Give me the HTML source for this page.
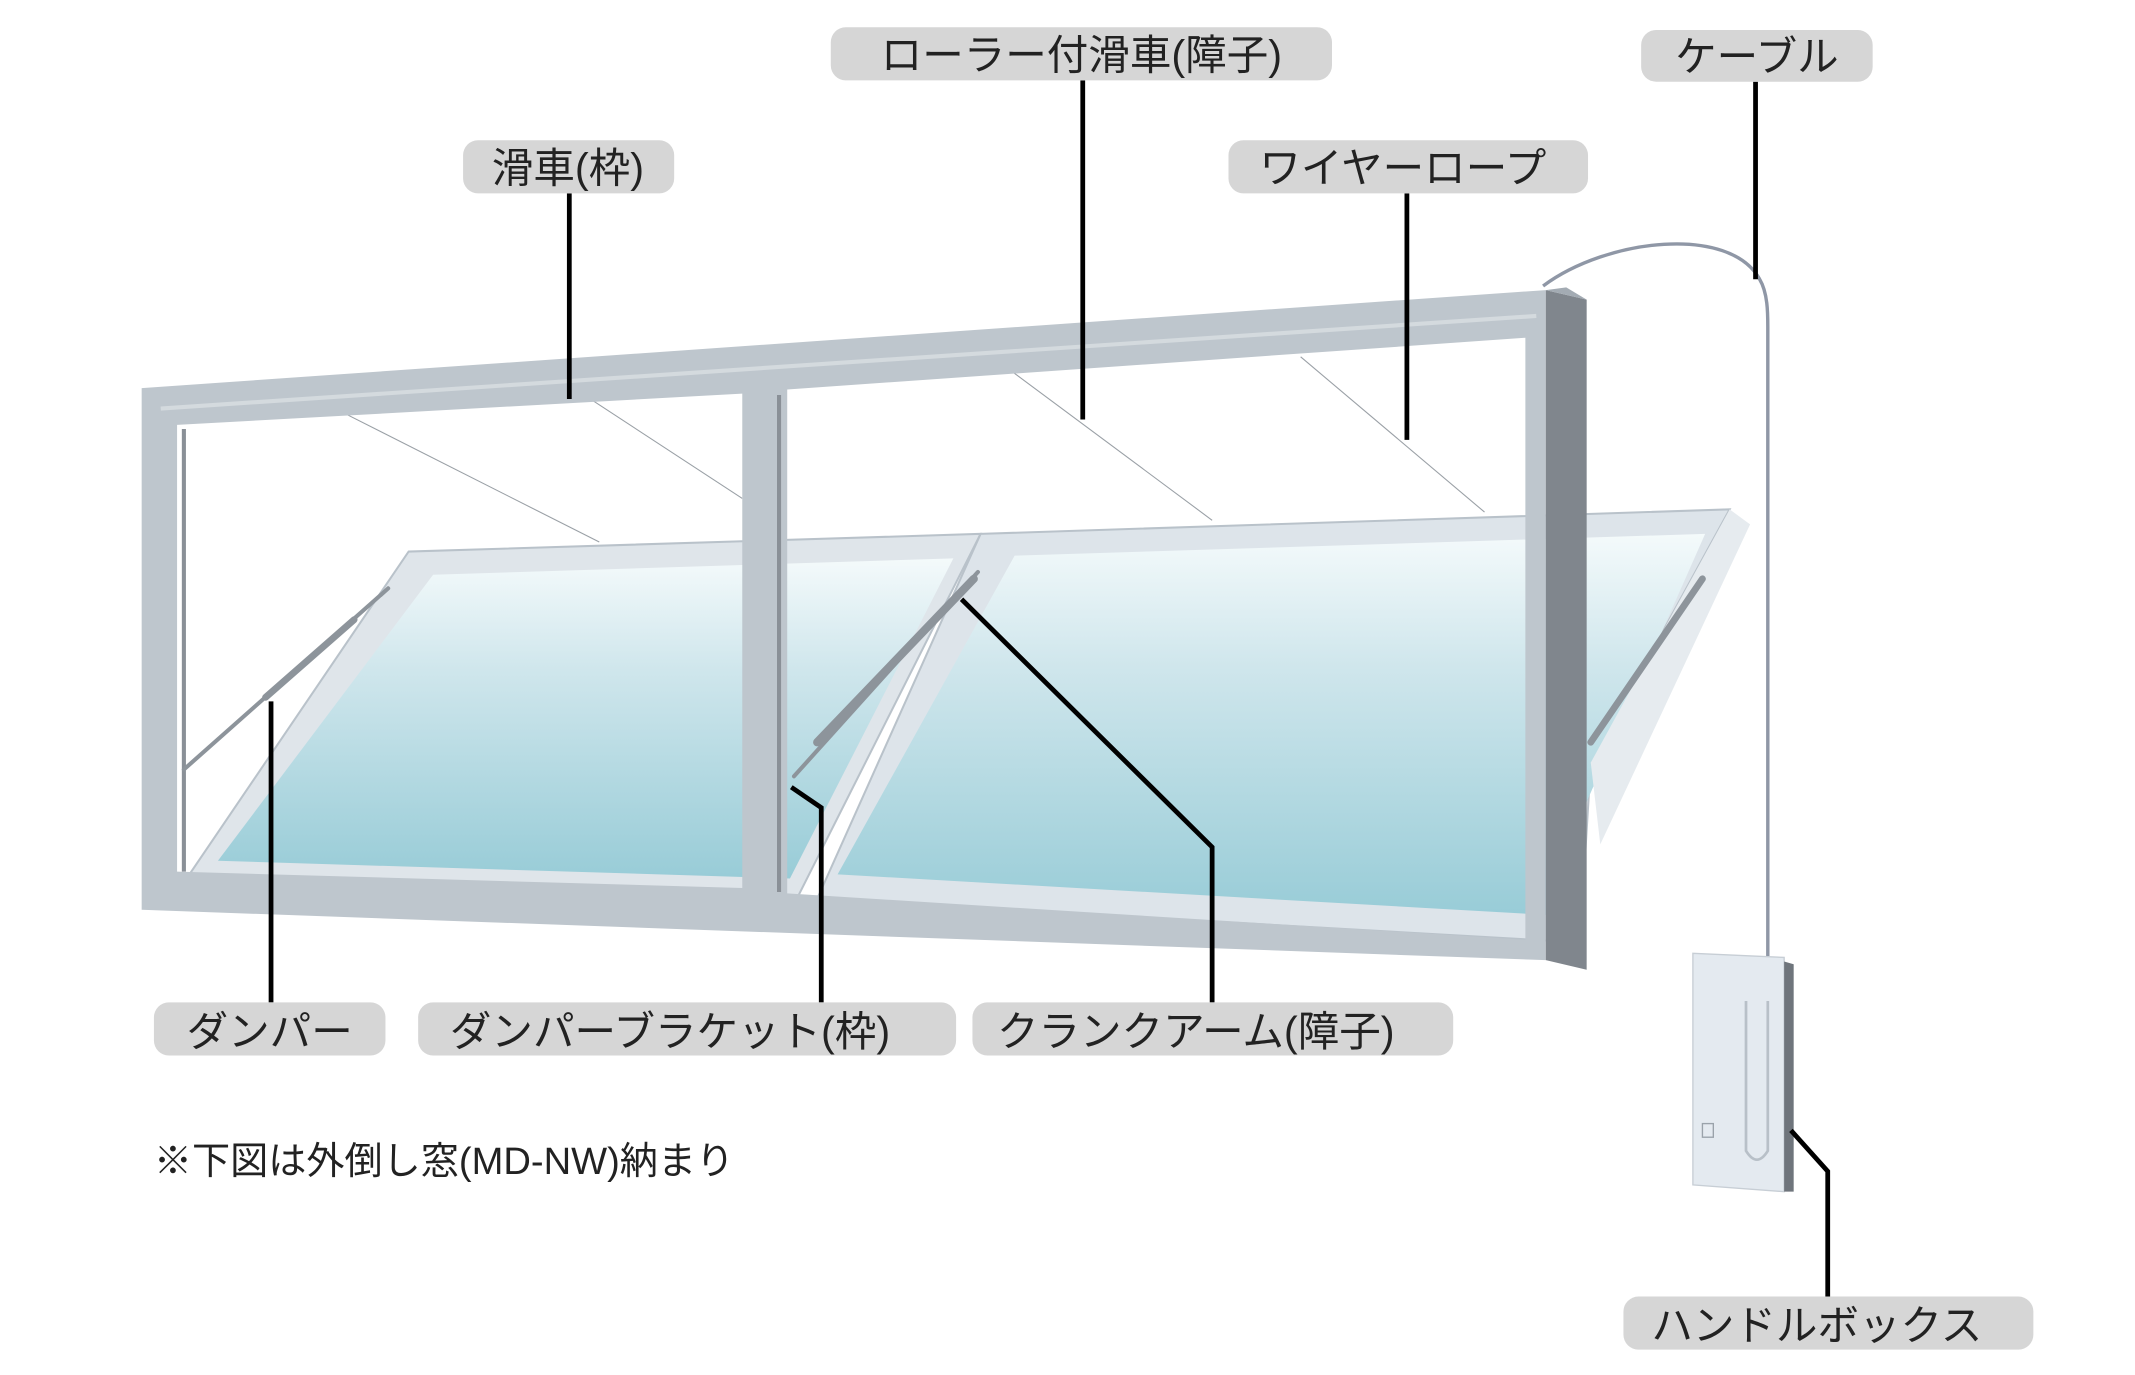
<!DOCTYPE html>
<html><head><meta charset="utf-8"><style>
html,body{margin:0;padding:0;background:#fff;}
svg{display:block}
text{font-family:"Liberation Sans","Noto Sans CJK JP",sans-serif;fill:#222;}
</style></head><body>
<svg width="2135" height="1375" viewBox="0 0 1567.6 1009.6" xmlns="http://www.w3.org/2000/svg">
<defs>
<linearGradient id="gl" x1="0" y1="0" x2="0" y2="1">
<stop offset="0" stop-color="#f4fafb"/><stop offset="0.35" stop-color="#cfe6ec"/><stop offset="1" stop-color="#98ccd7"/>
</linearGradient>
</defs>
<rect width="1567.6" height="1009.6" fill="#fff"/>
<!-- sashes -->
<polygon points="300,405 720,392 585,660 135,648" fill="#dfe5ea" stroke="#b9c2ca" stroke-width="1.5"/>
<polygon points="318,422 700,410 580,645 160,632" fill="url(#gl)"/>
<polygon points="720,392 1270,374 1168,560 1160,692 600,660" fill="#dde4ea" stroke="#b9c2ca" stroke-width="1.5"/>
<polygon points="745,408 1252,392 1160,600 1140,672 615,642" fill="url(#gl)"/>
<polygon points="1270,374 1285,385 1175,620 1168,560" fill="#e6ebef"/>
<!-- wires -->
<g stroke="#9aa0a6" stroke-width="0.8">
<line x1="250" y1="302" x2="440" y2="398"/><line x1="432" y1="292" x2="545" y2="366"/>
<line x1="742" y1="272" x2="890" y2="382"/><line x1="955" y1="262" x2="1090" y2="376"/>
</g>
<!-- frame -->
<path fill-rule="evenodd" fill="#bec6cd" d="M104,285 L1135,213 L1135,705 L104,668 Z M130,312 L545,289 L545,652 L130,640 Z M578,286 L1120,248 L1120,690 L578,656 Z"/>
<path fill="none" stroke="#d4dade" stroke-width="3" d="M118,300 L1128,232"/>
<polygon points="1135,213 1165,220 1165,712 1135,705" fill="#80868d"/>
<polygon points="1135,213 1150,211 1165,220" fill="#a3abb3"/>
<line x1="135" y1="315" x2="135" y2="640" stroke="#8a9097" stroke-width="3"/>
<line x1="572" y1="290" x2="572" y2="655" stroke="#8a9097" stroke-width="3"/>
<!-- dampers / arms -->
<g stroke="#8d949b" stroke-linecap="round">
<line x1="135" y1="565" x2="285" y2="432" stroke-width="3"/>
<line x1="195" y1="512" x2="260" y2="455" stroke-width="5"/>
<line x1="583" y1="570" x2="718" y2="420" stroke-width="3"/>
<line x1="600" y1="545" x2="715" y2="425" stroke-width="6"/>
<line x1="1168" y1="545" x2="1250" y2="425" stroke-width="5"/>
</g>
<!-- cable -->
<path d="M1133,210 C1180,175 1270,165 1292,205 C1298,215 1298,230 1298,240 L1298,702" fill="none" stroke="#8f97a6" stroke-width="2.5"/>
<!-- handle box -->
<polygon points="1243,700 1310,703 1310,875 1243,870" fill="#e4eaf0" stroke="#c7ced5"/>
<polygon points="1310,706 1317,708 1317,875 1310,875" fill="#6f757c"/>
<path d="M1282,735 L1282,845 Q1290,858 1298,845 L1298,735" fill="none" stroke="#b8c0c8" stroke-width="2"/>
<rect x="1250" y="825" width="8" height="10" fill="none" stroke="#9aa2aa"/>
<!-- leaders -->
<g stroke="#000" stroke-width="3.5" fill="none">
<line x1="418" y1="142" x2="418" y2="293"/>
<line x1="795" y1="59" x2="795" y2="308"/>
<line x1="1289" y1="60" x2="1289" y2="205"/>
<line x1="1033" y1="142" x2="1033" y2="323"/>
<line x1="199" y1="736" x2="199" y2="515"/>
<polyline points="603,736 603,593 581,578"/>
<polyline points="890,736 890,622 706,440"/>
<polyline points="1342,952 1342,860 1315,830"/>
</g>
<!-- labels -->
<g fill="#d6d6d6">
<rect x="340" y="103" width="155" height="39" rx="11"/>
<rect x="610" y="20" width="368" height="39" rx="11"/>
<rect x="1205" y="22" width="170" height="38" rx="11"/>
<rect x="902" y="103" width="264" height="39" rx="11"/>
<rect x="113" y="736" width="170" height="39" rx="11"/>
<rect x="307" y="736" width="395" height="39" rx="11"/>
<rect x="714" y="736" width="353" height="39" rx="11"/>
<rect x="1192" y="952" width="301" height="39" rx="11"/>
</g>
<g font-size="30.5" text-anchor="middle">
<text x="417" y="134">滑車(枠)</text>
<text x="794" y="51">ローラー付滑車(障子)</text>
<text x="1290" y="52">ケーブル</text>
<text x="1030" y="134">ワイヤーロープ</text>
<text x="198" y="768">ダンパー</text>
<text x="492" y="768">ダンパーブラケット(枠)</text>
<text x="878" y="768">クランクアーム(障子)</text>
<text x="1334" y="984">ハンドルボックス</text>
</g>
<text x="113" y="862" font-size="28">※下図は外倒し窓(MD-NW)納まり</text>
</svg>
</body></html>
